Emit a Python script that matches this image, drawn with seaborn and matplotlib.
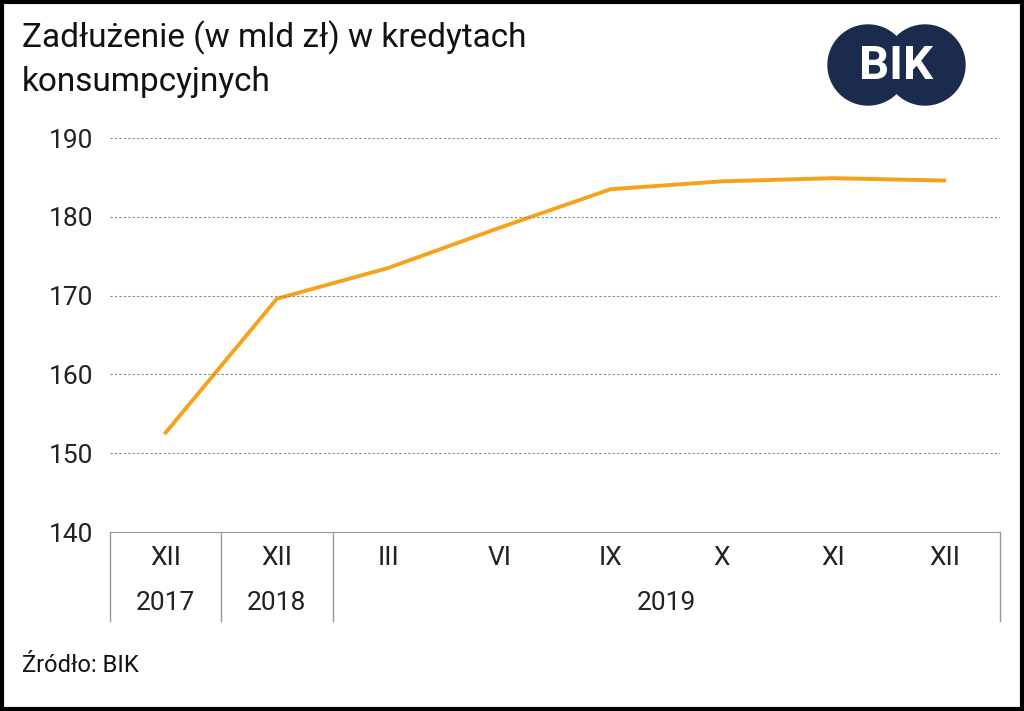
import matplotlib
matplotlib.use("Agg")
import matplotlib.pyplot as plt
import seaborn as sns
import pandas as pd
from matplotlib.patches import Circle, Rectangle
from matplotlib.lines import Line2D
from matplotlib.transforms import IdentityTransform

months = ["XII", "XII", "III", "VI", "IX", "X", "XI", "XII"]
years = ["2017", "2018", "2019"]
year_spans = [(0, 1), (1, 2), (2, 8)]
debt = [152.6, 169.6, 173.5, 178.6, 183.5, 184.5, 184.9, 184.6]
yticks = [140, 150, 160, 170, 180, 190]

plt.rcParams["font.family"] = "Roboto"
fig = plt.figure(figsize=(10.24, 7.11), dpi=100)
ax = fig.add_axes([110/1024, 1-532/711, 890/1024, 394/711])
df = pd.DataFrame({"pos": range(len(debt)), "debt": debt})
sns.lineplot(data=df, x="pos", y="debt", ax=ax, color="#f7a21b", linewidth=2.8)
ax.set_xlim(-0.5, len(debt)-0.5)
ax.set_ylim(140, 190)
ax.set_yticks(yticks)
ax.set_yticklabels([str(t) for t in yticks], fontsize=19, color="#222222")
ax.set_xticks([])
ax.set_xlabel(""); ax.set_ylabel("")
for s in ["top", "right", "left"]:
    ax.spines[s].set_visible(False)
ax.spines["bottom"].set_color("#999999")
ax.tick_params(axis="y", length=0, pad=12)
for t in yticks[1:]:
    ax.axhline(t, color="#888888", linestyle=(0, (2, 2)), linewidth=0.8)

trans = ax.get_xaxis_transform()
for i, m in enumerate(months):
    ax.text(i, -0.065, m, transform=trans, ha="center", va="center", fontsize=19, color="#222222")
for (a, b), y in zip(year_spans, years):
    ax.text((a+b-1)/2, -0.18, y, transform=trans, ha="center", va="center", fontsize=19, color="#222222")
for a in [0, 1, 2, 8]:
    ax.add_line(Line2D([a-0.5, a-0.5], [0, -0.225], transform=trans, color="#999999", lw=1, clip_on=False))

fig.text(22/1024, 1-38/711, "Zadłużenie (w mld zł) w kredytach", fontsize=24, va="center", color="#111111")
fig.text(22/1024, 1-82/711, "konsumpcyjnych", fontsize=24, va="center", color="#111111")
fig.text(22/1024, 1-665/711, "Źródło: BIK", fontsize=17, va="center", color="#111111")

navy = "#1b2b4d"
for cx in (868, 925):
    fig.patches.append(Circle((cx, 711-65), 40, transform=IdentityTransform(), color=navy, zorder=5))
fig.text(896/1024, 1-66/711, "BIK", fontsize=34, fontweight="bold", color="white",
         ha="center", va="center", zorder=6)

fig.patches.append(Rectangle((0.002, 0.003), 0.996, 0.994, transform=fig.transFigure,
                             fill=False, edgecolor="black", linewidth=3))
fig.savefig("out.png", dpi=100)
